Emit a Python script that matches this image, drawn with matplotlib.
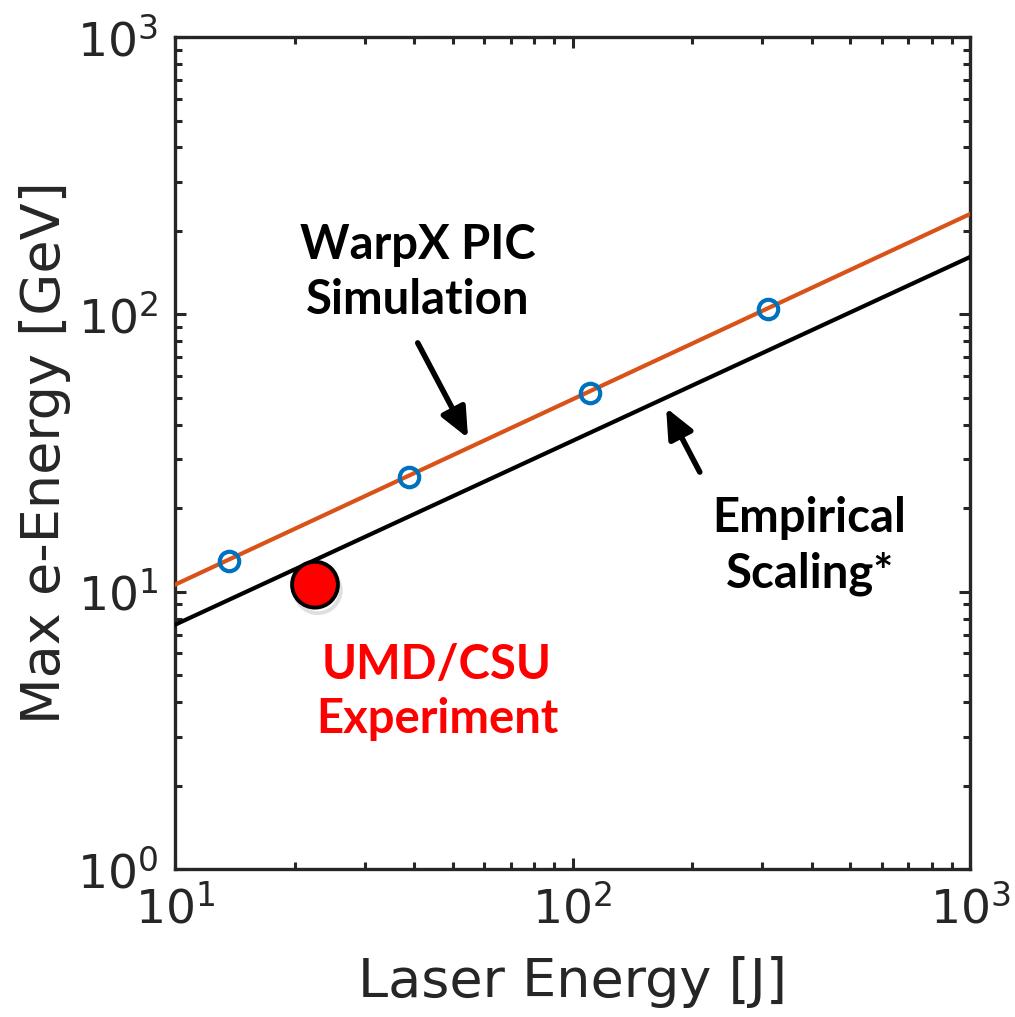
import numpy as np
import matplotlib.pyplot as plt
import matplotlib.patheffects as pe

# data
sim_energy = [13.7, 38.8, 110.7, 310.0]      # laser energy [J], WarpX PIC points
sim_egain = [12.9, 25.9, 52.1, 104.5]        # max e-energy [GeV]

fit_x = [10, 1000]
fit_sim = [10.6, 230.0]                      # orange fit through PIC points
fit_emp = [7.6, 161.0]                       # empirical scaling line

exp_energy = [22.5]
exp_egain = [10.6]

dark = '#262626'

fig = plt.figure(figsize=(10.15, 10.17), dpi=100)
ax = fig.add_axes([0.1724, 0.1455, 0.7833, 0.8181])

ax.plot(fit_x, fit_sim, color='#D95319', lw=3.0, zorder=3)
ax.plot(fit_x, fit_emp, color='black', lw=3.0, zorder=3)
ax.plot(sim_energy, sim_egain, 'o', mfc='none', mec='#0072BD', mew=3.0, ms=14, zorder=4)
ax.plot(exp_energy, exp_egain, 'o', mfc='#FF0000', mec='black', mew=2.8, ms=33, zorder=5,
        path_effects=[pe.SimpleLineShadow(offset=(2, -4), alpha=0.25, shadow_color='gray'),
                      pe.Normal()])

ax.set_xscale('log')
ax.set_yscale('log')
ax.set_xlim(10, 1000)
ax.set_ylim(1, 1000)

for s in ax.spines.values():
    s.set_linewidth(2.4)
    s.set_color(dark)
ax.tick_params(which='both', direction='in', top=True, right=True, colors=dark,
               labelsize=34, width=2.2, pad=12)
ax.tick_params(which='major', length=8)
ax.tick_params(which='minor', length=5)

ax.set_xlabel('Laser Energy [J]', fontsize=39, color=dark, labelpad=16)
ax.set_ylabel('Max e-Energy [GeV]', fontsize=39, color=dark, labelpad=4)

# annotations
lab_font = dict(family=['Lato', 'DejaVu Sans'], weight='bold', fontsize=34,
                ha='center', va='center', linespacing=1.3)
ax.text(40.8, 142, 'WarpX PIC\nSimulation', color='black', **lab_font)
ax.text(395, 14.6, 'Empirical\nScaling*', color='black', **lab_font)
ax.text(45.6, 4.35, 'UMD/CSU\nExperiment', color='#FF0000', **lab_font)

arrow = dict(arrowstyle='-|>,head_length=0.45,head_width=0.2', color='black', lw=4,
             mutation_scale=40, shrinkA=0, shrinkB=0)
ax.annotate('', xy=(54.6, 35.8), xytext=(40.8, 78.9), arrowprops=arrow)
ax.annotate('', xy=(172, 46.0), xytext=(209, 27.0), arrowprops=arrow)

fig.savefig('out.png', dpi=100)
